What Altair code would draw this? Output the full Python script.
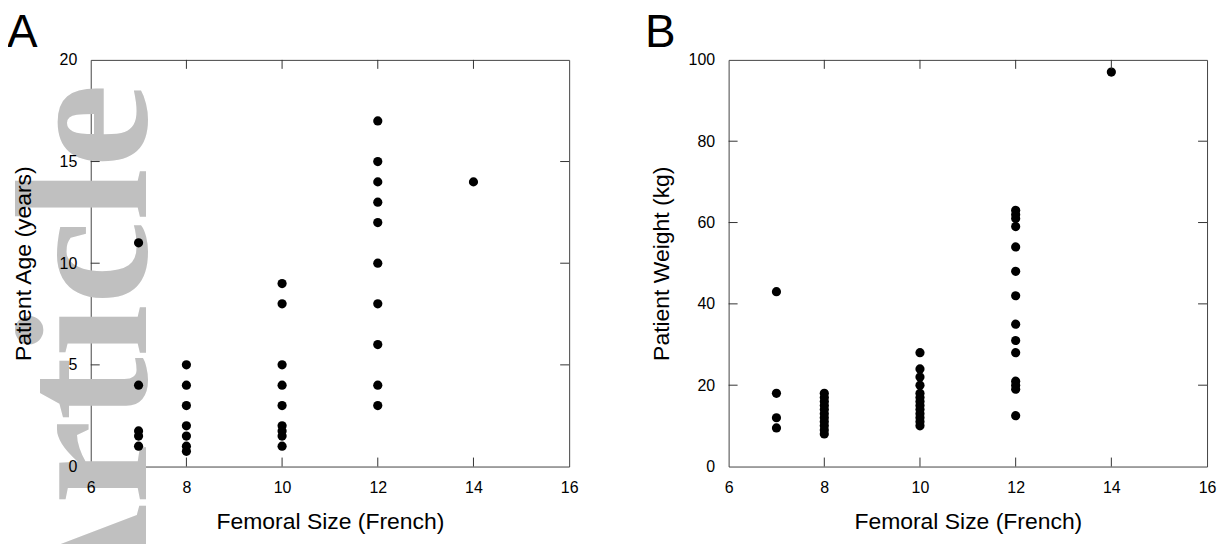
import altair as alt
import pandas as pd

# ---- data ----
french_ticks = [6, 8, 10, 12, 14, 16]
french_inner = [8, 10, 12, 14]
age_ticks = [0, 5, 10, 15, 20]
age_inner = [5, 10, 15]
weight_ticks = [0, 20, 40, 60, 80, 100]
weight_inner = [20, 40, 60, 80]

age_size = [7, 7, 7, 7, 7,
            8, 8, 8, 8, 8, 8, 8,
            10, 10, 10, 10, 10, 10, 10, 10, 10,
            12, 12, 12, 12, 12, 12, 12, 12, 12, 12,
            14]
age_years = [11, 4, 1.75, 1.5, 1,
             5, 4, 3, 2, 1.5, 1, 0.75,
             9, 8, 5, 4, 3, 2, 1.75, 1.5, 1,
             17, 15, 14, 13, 12, 10, 8, 6, 4, 3,
             14]

weight_size = [7, 7, 7, 7,
               8, 8, 8, 8, 8, 8, 8, 8, 8, 8, 8,
               10, 10, 10, 10, 10, 10, 10, 10, 10, 10, 10, 10, 10,
               12, 12, 12, 12, 12, 12, 12, 12, 12, 12, 12, 12, 12, 12,
               14]
weight_kg = [43, 18, 12, 9.5,
             18, 17, 16, 15, 14, 13, 12, 11, 10, 9, 8,
             28, 24, 22, 20, 18, 17, 16, 15, 14, 13, 12, 11, 10,
             63, 62, 61, 59, 54, 48, 42, 35, 31, 28, 21, 20, 19, 12.5,
             97]

W, H = 480, 408
TICK = 9
FONT = "Liberation Sans"


def panel(xs, ys, ydomain, yticks, yinner, ytitle, letter, ytitle_pad, watermark):
    df = pd.DataFrame({"fs": xs, "val": ys})
    xscale = alt.Scale(domain=[6, 16], nice=False, zero=False)
    yscale = alt.Scale(domain=ydomain, nice=False, zero=False)

    def xaxis():
        return alt.Axis(values=french_ticks, title="Femoral Size (French)", grid=False,
                        ticks=False, domain=False, labelFontSize=16, titleFontSize=23,
                        labelPadding=13, titlePadding=15, titleFontWeight="normal",
                        labelFont=FONT, titleFont=FONT, labelColor="black",
                        titleColor="black", zindex=1, labelFlush=False)

    def yaxis():
        return alt.Axis(values=yticks, title=ytitle, grid=False, ticks=False, domain=False,
                        labelFontSize=16, titleFontSize=23, labelPadding=14,
                        titlePadding=ytitle_pad, titleFontWeight="normal",
                        labelFont=FONT, titleFont=FONT, labelColor="black",
                        titleColor="black", zindex=1, labelFlush=False)

    layers = []
    if watermark:
        wm = alt.Chart(pd.DataFrame({"w": ["Article"]})).mark_text(
            angle=270, align="right", baseline="alphabetic", font="Liberation Serif",
            fontWeight="bold", fontSize=190, color="#c0c0c0"
        ).encode(text="w:N", x=alt.value(55), y=alt.value(24))
        layers.append(wm)

    pts = alt.Chart(df).mark_circle(size=85, color="black", opacity=1).encode(
        x=alt.X("fs:Q", scale=xscale, axis=xaxis()),
        y=alt.Y("val:Q", scale=yscale, axis=yaxis()),
    )
    layers.append(pts)

    xt = pd.DataFrame({"t": french_inner})
    yt = pd.DataFrame({"t": yinner})
    rs = dict(color="#333333", strokeWidth=1)
    layers += [
        alt.Chart(xt).mark_rule(**rs).encode(
            x=alt.X("t:Q", scale=xscale, axis=xaxis()), y=alt.value(H), y2=alt.value(H - TICK)),
        alt.Chart(xt).mark_rule(**rs).encode(
            x=alt.X("t:Q", scale=xscale, axis=xaxis()), y=alt.value(0), y2=alt.value(TICK)),
        alt.Chart(yt).mark_rule(**rs).encode(
            y=alt.Y("t:Q", scale=yscale, axis=yaxis()), x=alt.value(0), x2=alt.value(TICK)),
        alt.Chart(yt).mark_rule(**rs).encode(
            y=alt.Y("t:Q", scale=yscale, axis=yaxis()), x=alt.value(W), x2=alt.value(W - TICK)),
    ]

    lab = alt.Chart(pd.DataFrame({"l": [letter]})).mark_text(
        align="left", baseline="alphabetic", fontSize=46, font=FONT, color="black"
    ).encode(text="l:N", x=alt.value(-84), y=alt.value(-13))
    layers.append(lab)

    return alt.layer(*layers).properties(width=W, height=H)


a = panel(age_size, age_years, [0, 20], age_ticks, age_inner,
          "Patient Age (years)", "A", 24, True)
b = panel(weight_size, weight_kg, [0, 100], weight_ticks, weight_inner,
          "Patient Weight (kg)", "B", 15, False)

chart = alt.hconcat(a, b, spacing=160, bounds="flush").properties(
    padding={"left": -15, "top": 0, "right": 0, "bottom": 0},
    background="white",
).configure_view(stroke="#444444", strokeWidth=1)

chart.save("out.html", embed_options={"renderer": "svg", "actions": False})
